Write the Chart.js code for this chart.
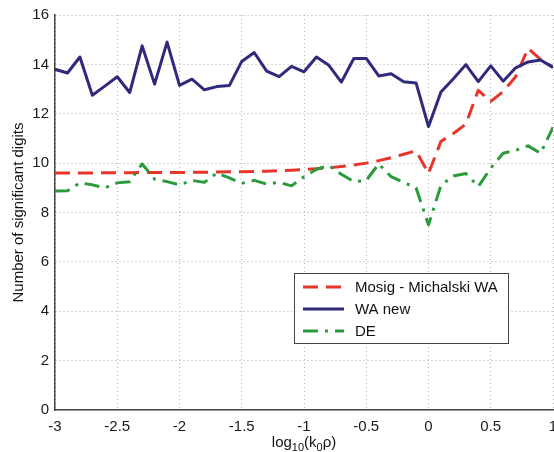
<!DOCTYPE html>
<html>
<head>
<meta charset="utf-8">
<script src="https://cdn.jsdelivr.net/npm/chart.js@4/dist/chart.umd.min.js"></script>
<style>
  html, body { margin: 0; padding: 0; background: #fff; overflow: hidden; }
  #wrap { width: 600px; height: 452px; }
</style>
</head>
<body>
<div id="wrap"><canvas id="c" width="600" height="452"></canvas></div>
<script>
// ---- data ----
const xValues = [-3.0,-2.9,-2.8,-2.7,-2.6,-2.5,-2.4,-2.3,-2.2,-2.1,-2.0,-1.9,-1.8,-1.7,-1.6,-1.5,-1.4,-1.3,-1.2,-1.1,-1.0,
                 -0.9,-0.8,-0.7,-0.6,-0.5,-0.4,-0.3,-0.2,-0.1,0.0,0.1,0.2,0.3,0.4,0.5,0.6,0.7,0.8,0.9,1.0];
const mosigMichalski = [9.6,9.6,9.6,9.6,9.61,9.61,9.61,9.62,9.62,9.62,9.62,9.63,9.63,9.64,9.65,9.65,9.66,9.67,9.69,9.71,9.74,
                        9.77,9.81,9.86,9.92,10.0,10.1,10.22,10.36,10.5,9.58,10.88,11.2,11.58,12.95,12.5,12.9,13.5,14.65,14.2,13.88];
const waNew = [13.8,13.65,14.3,12.75,13.12,13.5,12.86,14.75,13.2,14.9,13.15,13.4,12.97,13.1,13.14,14.12,14.48,13.73,13.5,13.92,13.7,
               14.3,13.96,13.28,14.24,14.24,13.53,13.62,13.3,13.25,11.48,12.88,13.42,13.99,13.3,13.94,13.32,13.86,14.1,14.18,13.88];
const deValues = [8.87,8.88,9.2,9.12,9.0,9.2,9.25,9.97,9.35,9.25,9.12,9.3,9.22,9.6,9.4,9.18,9.3,9.15,9.22,9.08,9.45,
                  9.75,9.9,9.55,9.25,9.3,9.97,9.45,9.22,9.0,7.5,9.1,9.48,9.58,9.05,9.8,10.4,10.52,10.7,10.4,11.45];
const seriesLabels = ['Mosig - Michalski WA', 'WA new', 'DE'];
const xTickValues = [-3,-2.5,-2,-1.5,-1,-0.5,0,0.5,1];
const xTickLabels = ['-3','-2.5','-2','-1.5','-1','-0.5','0','0.5','1'];
const yTickValues = [0,2,4,6,8,10,12,14,16];
const yTickLabels = ['0','2','4','6','8','10','12','14','16'];
const yTitle = 'Number of significant digits';
const xTitleParts = [['log',''],['10','sub'],['(k',''],['0','sub'],['ρ)','']];

const FONT = '"Liberation Sans", Arial, sans-serif';

function pts(ys) { return xValues.map((x, i) => ({x: x, y: ys[i]})); }

const legendPlugin = {
  id: 'boxLegend',
  afterDraw(chart) {
    const ctx = chart.ctx;
    const bx = 294, by = 273, bw = 214, bh = 70;
    ctx.save();
    ctx.fillStyle = '#fff';
    ctx.fillRect(bx, by, bw, bh);
    ctx.strokeStyle = '#444';
    ctx.lineWidth = 1;
    ctx.strokeRect(bx + 0.5, by + 0.5, bw, bh);
    chart.data.datasets.forEach((ds, i) => {
      const y = by + 14 + i * 22;
      ctx.beginPath();
      ctx.strokeStyle = ds.borderColor;
      ctx.lineWidth = ds.borderWidth;
      ctx.setLineDash(ds.borderDash || []);
      ctx.moveTo(303, y);
      ctx.lineTo(344, y);
      ctx.stroke();
      ctx.setLineDash([]);
      ctx.fillStyle = '#111';
      ctx.font = '15px ' + FONT;
      ctx.textAlign = 'left';
      ctx.textBaseline = 'middle';
      ctx.fillText(ds.label, 355, y + 1);
    });
    ctx.restore();
  }
};

const xTitlePlugin = {
  id: 'xTitle',
  afterDraw(chart) {
    const ctx = chart.ctx;
    const a = chart.chartArea;
    ctx.save();
    ctx.fillStyle = '#111';
    ctx.textBaseline = 'alphabetic';
    ctx.textAlign = 'left';
    const big = '15px ' + FONT, small = '11px ' + FONT;
    let total = 0;
    const widths = xTitleParts.map(p => { ctx.font = p[1] ? small : big; const w = ctx.measureText(p[0]).width; total += w; return w; });
    let x = (a.left + a.right) / 2 - total / 2;
    const base = 447;
    xTitleParts.forEach((p, i) => {
      ctx.font = p[1] ? small : big;
      ctx.fillText(p[0], x, p[1] ? base + 4 : base);
      x += widths[i];
    });
    ctx.restore();
  }
};

new Chart(document.getElementById('c'), {
  type: 'line',
  data: {
    datasets: [
      { label: seriesLabels[0], data: pts(mosigMichalski), borderColor: '#e8352b', borderWidth: 3,
        borderDash: [15, 8], order: 3 },
      { label: seriesLabels[1], data: pts(waNew), borderColor: '#2f2a7c', borderWidth: 3, order: 2 },
      { label: seriesLabels[2], data: pts(deValues), borderColor: '#2b9a3b', borderWidth: 3,
        borderDash: [15, 7, 3, 7], order: 1 }
    ]
  },
  options: {
    responsive: false,
    animation: false,
    devicePixelRatio: 1,
    layout: { padding: { left: 0, right: 47, top: 15, bottom: 0 } },
    elements: {
      point: { radius: 0, hoverRadius: 0 },
      line: { tension: 0, borderCapStyle: 'butt', borderJoinStyle: 'round', fill: false }
    },
    plugins: { legend: { display: false }, tooltip: { enabled: false } },
    scales: {
      x: {
        type: 'linear', min: -3, max: 1,
        afterFit(s) { s.height = 42; },
        afterBuildTicks(s) { s.ticks = xTickValues.map(v => ({value: v})); },
        ticks: {
          callback: (v) => { const i = xTickValues.indexOf(v); return i >= 0 ? xTickLabels[i] : ''; },
          color: '#1a1a1a', font: { family: FONT, size: 15 }, padding: 8, maxRotation: 0, autoSkip: false
        },
        grid: { color: '#b0b0b0', lineWidth: 1, drawTicks: false },
        border: { display: true, color: '#444', width: 1.5, dash: [1, 3] }
      },
      y: {
        type: 'linear', min: 0, max: 16,
        afterFit(s) { s.width = 55; },
        afterBuildTicks(s) { s.ticks = yTickValues.map(v => ({value: v})); },
        ticks: {
          callback: (v) => { const i = yTickValues.indexOf(v); return i >= 0 ? yTickLabels[i] : ''; },
          color: '#1a1a1a', font: { family: FONT, size: 15 }, padding: 6, autoSkip: false
        },
        grid: { color: '#b0b0b0', lineWidth: 1, drawTicks: false },
        border: { display: true, color: '#444', width: 1.5, dash: [1, 3] },
        title: { display: true, text: yTitle, color: '#111', font: { family: FONT, size: 15 }, padding: { top: 10, bottom: 0 } }
      }
    }
  },
  plugins: [legendPlugin, xTitlePlugin]
});
</script>
</body>
</html>
